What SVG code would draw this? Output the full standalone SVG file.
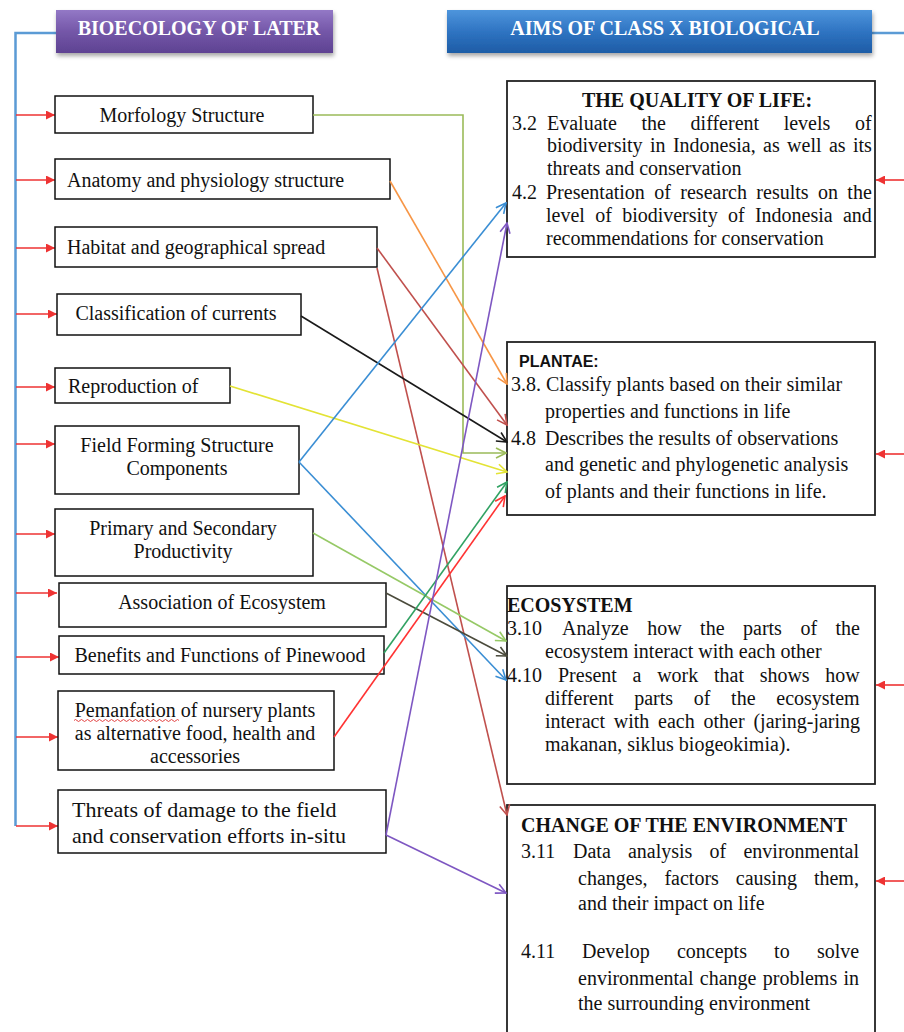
<svg xmlns="http://www.w3.org/2000/svg" width="904" height="1032" viewBox="0 0 904 1032">
<style>
.t{font-family:'Liberation Serif','Times New Roman',serif;font-size:20px;fill:#111}
.tb{font-family:'Liberation Serif','Times New Roman',serif;font-size:20px;font-weight:bold;fill:#111}
.th{font-family:'Liberation Serif','Times New Roman',serif;font-size:20px;font-weight:bold;fill:#fff}
.ts{font-family:'Liberation Sans',Arial,sans-serif;font-size:16px;font-weight:bold;fill:#111}
.box{fill:#fff;stroke:#111;stroke-width:1.5}
.rbox{fill:#fff;stroke:#222;stroke-width:1.8}
.c{fill:none;stroke-width:1.6}
.ra{fill:none;stroke:#EE3333;stroke-width:1.6}
.m{text-anchor:middle}
</style>
<defs>
<linearGradient id="gp" x1="0" y1="0" x2="0" y2="1"><stop offset="0" stop-color="#9378C6"/><stop offset="0.5" stop-color="#7457A8"/><stop offset="1" stop-color="#5E4292"/></linearGradient>
<linearGradient id="gb" x1="0" y1="0" x2="0" y2="1"><stop offset="0" stop-color="#4E95DC"/><stop offset="0.5" stop-color="#2F74C2"/><stop offset="1" stop-color="#1D5CA6"/></linearGradient>
<filter id="sh" x="-5%" y="-20%" width="115%" height="160%"><feDropShadow dx="1" dy="3" stdDeviation="2" flood-color="#000" flood-opacity="0.35"/></filter>
<marker id="rf" viewBox="0 0 10 10" refX="10" refY="5" markerWidth="10" markerHeight="9" markerUnits="userSpaceOnUse" orient="auto"><path d="M0,0 L10,5 L0,10 z" fill="#EE3333"/></marker>
<marker id="aG" viewBox="0 0 12 12" refX="11" refY="6" markerWidth="12" markerHeight="12" markerUnits="userSpaceOnUse" orient="auto"><path d="M1,1 L11,6 L1,11" fill="none" stroke="#9BBB59" stroke-width="1.6"/></marker>
<marker id="aO" viewBox="0 0 12 12" refX="11" refY="6" markerWidth="12" markerHeight="12" markerUnits="userSpaceOnUse" orient="auto"><path d="M1,1 L11,6 L1,11" fill="none" stroke="#F79646" stroke-width="1.6"/></marker>
<marker id="aR" viewBox="0 0 12 12" refX="11" refY="6" markerWidth="12" markerHeight="12" markerUnits="userSpaceOnUse" orient="auto"><path d="M1,1 L11,6 L1,11" fill="none" stroke="#C0504D" stroke-width="1.6"/></marker>
<marker id="aK" viewBox="0 0 12 12" refX="11" refY="6" markerWidth="12" markerHeight="12" markerUnits="userSpaceOnUse" orient="auto"><path d="M1,1 L11,6 L1,11" fill="none" stroke="#1A1A1A" stroke-width="1.6"/></marker>
<marker id="aY" viewBox="0 0 12 12" refX="11" refY="6" markerWidth="12" markerHeight="12" markerUnits="userSpaceOnUse" orient="auto"><path d="M1,1 L11,6 L1,11" fill="none" stroke="#E3E335" stroke-width="1.6"/></marker>
<marker id="aB" viewBox="0 0 12 12" refX="11" refY="6" markerWidth="12" markerHeight="12" markerUnits="userSpaceOnUse" orient="auto"><path d="M1,1 L11,6 L1,11" fill="none" stroke="#3A8ED4" stroke-width="1.6"/></marker>
<marker id="aL" viewBox="0 0 12 12" refX="11" refY="6" markerWidth="12" markerHeight="12" markerUnits="userSpaceOnUse" orient="auto"><path d="M1,1 L11,6 L1,11" fill="none" stroke="#96C966" stroke-width="1.6"/></marker>
<marker id="aD" viewBox="0 0 12 12" refX="11" refY="6" markerWidth="12" markerHeight="12" markerUnits="userSpaceOnUse" orient="auto"><path d="M1,1 L11,6 L1,11" fill="none" stroke="#4B4B3C" stroke-width="1.6"/></marker>
<marker id="aE" viewBox="0 0 12 12" refX="11" refY="6" markerWidth="12" markerHeight="12" markerUnits="userSpaceOnUse" orient="auto"><path d="M1,1 L11,6 L1,11" fill="none" stroke="#31A263" stroke-width="1.6"/></marker>
<marker id="aS" viewBox="0 0 12 12" refX="11" refY="6" markerWidth="12" markerHeight="12" markerUnits="userSpaceOnUse" orient="auto"><path d="M1,1 L11,6 L1,11" fill="none" stroke="#FF3333" stroke-width="1.6"/></marker>
<marker id="aP" viewBox="0 0 12 12" refX="11" refY="6" markerWidth="12" markerHeight="12" markerUnits="userSpaceOnUse" orient="auto"><path d="M1,1 L11,6 L1,11" fill="none" stroke="#7E57C2" stroke-width="1.6"/></marker>
</defs>
<rect width="904" height="1032" fill="#fff"/>

<g id="bracket">
<path d="M56,33 H15.5 V826" fill="none" stroke="#5B9BD5" stroke-width="2.5"/>
<path d="M872,33 H904" fill="none" stroke="#5B9BD5" stroke-width="2.5"/>
<line class="ra" x1="16" y1="115" x2="55" y2="115" marker-end="url(#rf)"/>
<line class="ra" x1="16" y1="180" x2="55" y2="180" marker-end="url(#rf)"/>
<line class="ra" x1="16" y1="248" x2="55" y2="248" marker-end="url(#rf)"/>
<line class="ra" x1="16" y1="314" x2="57" y2="314" marker-end="url(#rf)"/>
<line class="ra" x1="16" y1="387" x2="55" y2="387" marker-end="url(#rf)"/>
<line class="ra" x1="16" y1="444" x2="55" y2="444" marker-end="url(#rf)"/>
<line class="ra" x1="16" y1="534" x2="55" y2="534" marker-end="url(#rf)"/>
<line class="ra" x1="16" y1="593" x2="57" y2="593" marker-end="url(#rf)"/>
<line class="ra" x1="16" y1="657" x2="59" y2="657" marker-end="url(#rf)"/>
<line class="ra" x1="16" y1="737" x2="58" y2="737" marker-end="url(#rf)"/>
<line class="ra" x1="16" y1="826" x2="58" y2="826" marker-end="url(#rf)"/>
<line class="ra" x1="904" y1="180" x2="876" y2="180" marker-end="url(#rf)"/>
<line class="ra" x1="904" y1="454" x2="876" y2="454" marker-end="url(#rf)"/>
<line class="ra" x1="904" y1="685" x2="876" y2="685" marker-end="url(#rf)"/>
<line class="ra" x1="904" y1="881" x2="876" y2="881" marker-end="url(#rf)"/>
</g>

<g id="header-left">
<rect x="56" y="10" width="277" height="43" fill="url(#gp)" filter="url(#sh)"/>
<text class="th m" x="199" y="35">BIOECOLOGY OF LATER</text>
</g>
<g id="header-right">
<rect x="447" y="10" width="425" height="43" fill="url(#gb)" filter="url(#sh)"/>
<text class="th m" x="665" y="35">AIMS OF CLASS X BIOLOGICAL</text>
</g>

<g id="n-morfology"><rect class="box" x="55" y="96" width="258" height="37"/><text class="t m" x="182" y="122">Morfology Structure</text></g>
<g id="n-anatomy"><rect class="box" x="55" y="159" width="335" height="40"/><text class="t" x="67" y="187">Anatomy and physiology structure</text></g>
<g id="n-habitat"><rect class="box" x="55" y="227" width="322" height="40"/><text class="t" x="67" y="254">Habitat and geographical spread</text></g>
<g id="n-classification"><rect class="box" x="57" y="294" width="244" height="41"/><text class="t m" x="176" y="320">Classification of currents</text></g>
<g id="n-reproduction"><rect class="box" x="55" y="368" width="175" height="35"/><text class="t" x="68" y="393">Reproduction of</text></g>
<g id="n-field"><rect class="box" x="55" y="426" width="244" height="68"/><text class="t m" x="177" y="452">Field Forming Structure</text><text class="t m" x="177" y="475">Components</text></g>
<g id="n-primary"><rect class="box" x="55" y="509" width="258" height="67"/><text class="t m" x="183" y="535">Primary and Secondary</text><text class="t m" x="183" y="558">Productivity</text></g>
<g id="n-association"><rect class="box" x="59" y="583" width="327" height="44"/><text class="t m" x="222" y="609">Association of Ecosystem</text></g>
<g id="n-benefits"><rect class="box" x="59" y="636" width="325" height="38"/><text class="t m" x="220" y="662">Benefits and Functions of Pinewood</text></g>
<g id="n-pemanfation"><rect class="box" x="58" y="691" width="276" height="79"/>
<text class="t m" x="195" y="717">Pemanfation of nursery plants</text>
<path d="M74,720.5 q1.5,-2 3,0 t3,0 t3,0 t3,0 t3,0 t3,0 t3,0 t3,0 t3,0 t3,0 t3,0 t3,0 t3,0 t3,0 t3,0 t3,0 t3,0 t3,0 t3,0 t3,0 t3,0 t3,0 t3,0 t3,0 t3,0 t3,0 t3,0 t3,0 t3,0 t3,0 t3,0 t3,0 t3,0 t3,0 t3,0" fill="none" stroke="#E03030" stroke-width="0.9"/>
<text class="t m" x="195" y="740">as alternative food, health and</text>
<text class="t m" x="195" y="763">accessories</text></g>
<g id="n-threats"><rect class="box" x="58" y="790" width="328" height="63"/><text class="t" style="font-size:22px" x="72" y="817">Threats of damage to the field</text><text class="t" style="font-size:22px" x="72" y="843">and conservation efforts in-situ</text></g>

<g id="n-quality"><rect class="rbox" x="507" y="81" width="368" height="176"/>
<text class="tb m" x="697" y="107">THE QUALITY OF LIFE:</text>
<text class="t" x="512" y="130">3.2</text><text class="t" x="547" y="130" word-spacing="19.6">Evaluate the different levels of</text>
<text class="t" x="547" y="152" word-spacing="2.4">biodiversity in Indonesia, as well as its</text>
<text class="t" x="547" y="175">threats and conservation</text>
<text class="t" x="512" y="199">4.2</text><text class="t" x="546" y="199" word-spacing="4.4">Presentation of research results on the</text>
<text class="t" x="546" y="222" word-spacing="5.3">level of biodiversity of Indonesia and</text>
<text class="t" x="546" y="245">recommendations for conservation</text></g>

<g id="n-plantae"><rect class="rbox" x="507" y="342" width="368" height="173"/>
<text class="ts" x="519" y="367">PLANTAE:</text>
<text class="t" x="511" y="391">3.8. Classify plants based on their similar</text>
<text class="t" x="545" y="418">properties and functions in life</text>
<text class="t" x="511" y="445">4.8</text><text class="t" x="545" y="445">Describes the results of observations</text>
<text class="t" x="545" y="471">and genetic and phylogenetic analysis</text>
<text class="t" x="545" y="498">of plants and their functions in life.</text></g>

<g id="n-ecosystem"><rect class="rbox" x="507" y="586" width="368" height="198"/>
<text class="tb" x="507" y="612">ECOSYSTEM</text>
<text class="t" x="507" y="635">3.10</text><text class="t" x="562" y="635" word-spacing="13.5">Analyze how the parts of the</text>
<text class="t" x="545" y="658">ecosystem interact with each other</text>
<text class="t" x="507" y="682">4.10</text><text class="t" x="558" y="682" word-spacing="10.7">Present a work that shows how</text>
<text class="t" x="545" y="705" word-spacing="15.7">different parts of the ecosystem</text>
<text class="t" x="545" y="728" word-spacing="3.8">interact with each other (jaring-jaring</text>
<text class="t" x="545" y="751">makanan, siklus biogeokimia).</text></g>

<g id="n-change"><rect class="rbox" x="507" y="805" width="368" height="240"/>
<text class="tb" x="521" y="832">CHANGE OF THE ENVIRONMENT</text>
<text class="t" x="521" y="858">3.11</text><text class="t" x="573" y="858" word-spacing="12.2">Data analysis of environmental</text>
<text class="t" x="578" y="885" word-spacing="12">changes, factors causing them,</text>
<text class="t" x="578" y="910">and their impact on life</text>
<text class="t" x="521" y="958">4.11</text><text class="t" x="582" y="958" word-spacing="22.2">Develop concepts to solve</text>
<text class="t" x="578" y="985" word-spacing="1.3">environmental change problems in</text>
<text class="t" x="578" y="1010">the surrounding environment</text></g>

<g id="connectors">
<path class="c" stroke="#9BBB59" d="M313,115 H463 V453 H506" marker-end="url(#aG)"/>
<path class="c" stroke="#F79646" d="M390,181 L507,384" marker-end="url(#aO)"/>
<path class="c" stroke="#C0504D" d="M377,248 L507,425" marker-end="url(#aR)"/>
<path class="c" stroke="#C0504D" d="M377,268 L507,815" marker-end="url(#aR)"/>
<path class="c" stroke="#1A1A1A" d="M301,316 L507,442" marker-end="url(#aK)"/>
<path class="c" stroke="#E3E335" d="M230,386 L507,472" marker-end="url(#aY)"/>
<path class="c" stroke="#3A8ED4" d="M299,462 L506,203" marker-end="url(#aB)"/>
<path class="c" stroke="#3A8ED4" d="M299,462 L506,680" marker-end="url(#aB)"/>
<path class="c" stroke="#96C966" d="M313,533 L506,641" marker-end="url(#aL)"/>
<path class="c" stroke="#4B4B3C" d="M386,593 L507,656" marker-end="url(#aD)"/>
<path class="c" stroke="#31A263" d="M384,653 L507,482" marker-end="url(#aE)"/>
<path class="c" stroke="#FF3333" d="M334,737 L505,496" marker-end="url(#aS)"/>
<path class="c" stroke="#7E57C2" d="M386,835 L507,223" marker-end="url(#aP)"/>
<path class="c" stroke="#7E57C2" d="M386,835 L506,893" marker-end="url(#aP)"/>
</g>
</svg>
